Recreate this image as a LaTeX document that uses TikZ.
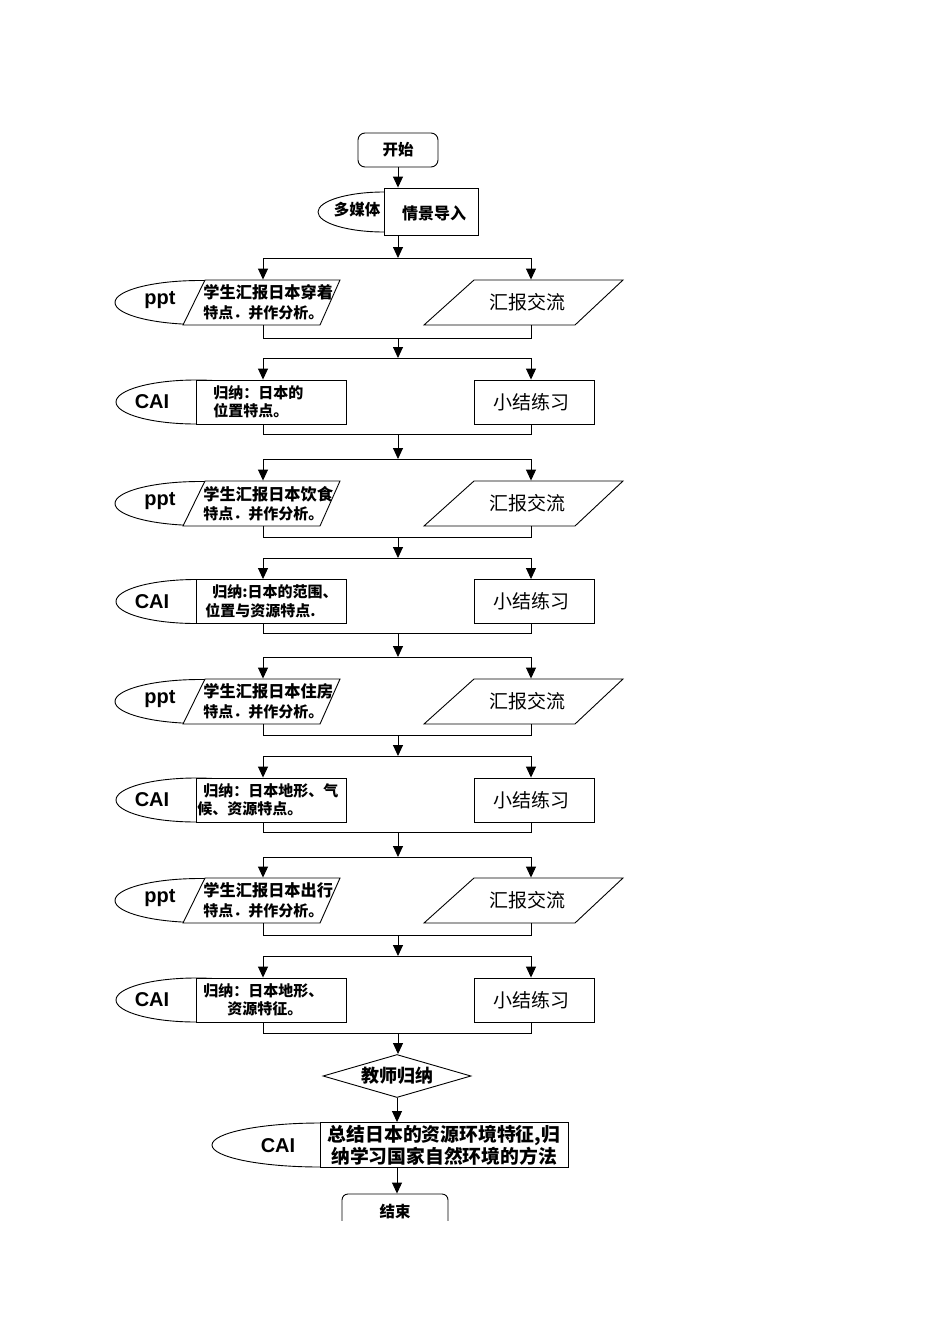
\documentclass[tikz,border=0pt]{standalone}
\usepackage{fontspec}
\setmainfont{Noto Sans CJK SC}
\newfontfamily\latf{Liberation Sans}
\usetikzlibrary{shapes.geometric,arrows.meta}
\newcommand{\lineb}{\fontsize{15}{19.5}\selectfont}
\begin{document}
\begin{tikzpicture}[x=1pt,y=-1pt,
 line width=0.9pt,
 arr/.style={-{Triangle[length=11pt,width=10pt]}},
 box/.style={draw, fill=white, rectangle, inner sep=0pt},
 frame/.style={rectangle, inner sep=0pt},
 para/.style={draw, fill=white},
 tab/.style={draw, fill=white, ellipse, inner sep=0pt},
 big/.style={font=\fontsize{19}{22}\selectfont},
 small/.style={font=\bfseries\fontsize{15}{18.5}\selectfont, align=left, inner sep=0pt},
 smallp/.style={font=\bfseries\fontsize{16.2}{19.5}\selectfont, align=left, inner sep=0pt},
 lat/.style={font=\latf\bfseries\fontsize{20}{24}\selectfont, inner sep=0pt},
 bold15/.style={font=\bfseries\fontsize{15.5}{18}\selectfont},
]
\useasboundingbox (0,0) rectangle (950,1344);

% start
\node[box, rounded corners=7pt, minimum width=80pt, minimum height=34pt, bold15] (start) at (398,150) {开始};

% multimedia
\node[tab, minimum width=132pt, minimum height=40pt] (mmtab) at (384,212) {};
\node[bold15] (mml) at (357,210) {多媒体};
\node[box, minimum width=94pt, minimum height=47pt] (mm) at (431,211.5) {};
\node[font=\bfseries\fontsize{16}{18}\selectfont] (mmt) at (434,213) {情景导入};
\draw[arr] (start.south) -- (start.south |- mm.north);

% rows: split / merge coordinates
\foreach \i/\s/\m in {1/258/338, 2/358/434, 3/459/537, 4/558/633, 5/657/735, 6/756/832, 7/857/935, 8/956/1033}{
  \coordinate (sL\i) at (263,\s);
  \coordinate (sC\i) at (398,\s);
  \coordinate (sR\i) at (531,\s);
  \coordinate (mL\i) at (263,\m);
  \coordinate (mC\i) at (398,\m);
  \coordinate (mR\i) at (531,\m);
}

% ppt rows
\foreach \i/\c/\txt in {1/302.5/{学生汇报日本穿着\\\lineb 特点．并作分析。},
                        3/503.5/{学生汇报日本饮食\\\lineb 特点．并作分析。},
                        5/701.5/{学生汇报日本住房\\\lineb 特点．并作分析。},
                        7/900.5/{学生汇报日本出行\\\lineb 特点．并作分析。}}{
  \node[tab, minimum width=170pt, minimum height=44pt] (e\i) at (200,\c) {};
  \node[lat] (el\i) at (160,\c-2) {ppt};
  \draw[para] (205,\c-22.5) -- (340,\c-22.5) -- (320,\c+22.5) -- (183,\c+22.5) -- cycle;
  \node[frame, minimum width=157pt, minimum height=45pt] (L\i) at (261.5,\c) {};
  \node[smallp, anchor=west] (lt\i) at (203,\c) {\txt};
  \draw[para] (474,\c-22.5) -- (623,\c-22.5) -- (575,\c+22.5) -- (424,\c+22.5) -- cycle;
  \node[frame, minimum width=199pt, minimum height=45pt, big] (R\i) at (527,\c) {汇报交流};
}

% CAI rows
\foreach \i/\c/\x/\txt in {2/402/213/{归纳：日本的\\位置特点。},
                           4/601.5/205/{\hspace*{7pt}归纳:日本的范围、\\位置与资源特点.},
                           6/800/197/{\hspace*{6pt}归纳：日本地形、气\\候、资源特点。},
                           8/1000/203/{归纳：日本地形、\\\hspace*{24pt}资源特征。}}{
  \node[tab, minimum width=160pt, minimum height=44pt] (e\i) at (196,\c) {};
  \node[lat] (el\i) at (152,\c) {CAI};
  \node[box, minimum width=150pt, minimum height=44pt] (L\i) at (271,\c) {};
  \node[small, anchor=west] (lt\i) at (\x,\c) {\txt};
  \node[box, minimum width=120pt, minimum height=44pt] (R\i) at (534,\c) {};
  \node[big] (rt\i) at (531,\c) {小结练习};
}

% connectors of rows
\foreach \i in {1,...,8}{
  \draw (sL\i) -- (sR\i);
  \draw[arr] (sL\i) -- (sL\i |- L\i.north);
  \draw[arr] (sR\i) -- (sR\i |- R\i.north);
  \draw (mL\i |- L\i.south) -- (mL\i) -- (mR\i) -- (mR\i |- R\i.south);
}
\draw[arr] (start.south |- mm.south) -- (sC1);
\foreach \i/\j in {1/2,2/3,3/4,4/5,5/6,6/7,7/8}{
  \draw[arr] (mC\i) -- (sC\j);
}

% teacher summary
\node[draw, fill=white, diamond, aspect=3.44, inner sep=0pt, minimum width=148pt, minimum height=43pt, font=\bfseries\fontsize{18}{20}\selectfont] (tchr) at (397,1076) {教师归纳};
\draw[arr] (mC8) -- (mC8 |- tchr.north);

% final CAI
\node[tab, minimum width=216pt, minimum height=44pt] (fe) at (320,1145) {};
\node[lat] (fel) at (278,1146) {CAI};
\node[box, minimum width=248pt, minimum height=45pt, align=center, font=\bfseries\fontsize{18.8}{22}\selectfont] (fin) at (444,1145) {总结日本的资源环境特征,归\\纳学习国家自然环境的方法};
\draw[arr] (tchr.south) -- (tchr.south |- fin.north);

% end (cut off at the bottom as in the reference)
\begin{scope}
\clip (0,0) rectangle (950,1220);
\node[box, rounded corners=6pt, minimum width=106pt, minimum height=36pt, bold15] (end) at (395,1212) {结束};
\end{scope}
\draw[arr] (tchr.south |- fin.south) -- (tchr.south |- end.north);
\end{tikzpicture}
\end{document}
